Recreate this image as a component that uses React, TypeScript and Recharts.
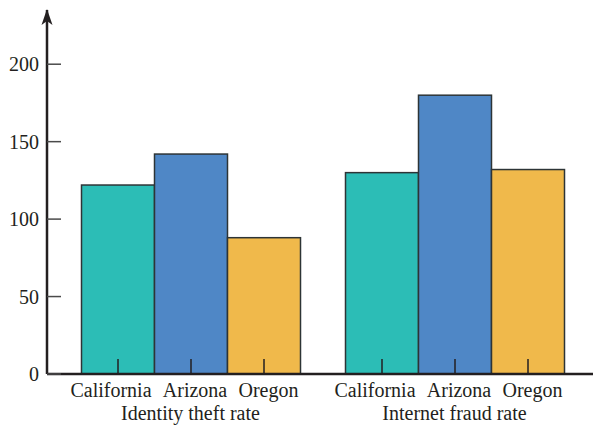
import { Bar, BarChart, XAxis, YAxis, Label } from "recharts"

const groups = ["Identity theft rate", "Internet fraud rate"]
const states = ["California", "Arizona", "Oregon"]
const california = [122, 130]
const arizona = [142, 180]
const oregon = [88, 132]
const yTicks = [0, 50, 100, 150, 200]

const data = groups.map((g, i) => ({
  name: g,
  California: california[i],
  Arizona: arizona[i],
  Oregon: oregon[i],
}))

const colors: Record<string, string> = {
  California: "#2cbdb6",
  Arizona: "#4f87c6",
  Oregon: "#f0b94b",
}

const BAR_SIZE = 73
const INK = "#231f20"
const textStyle = { fontFamily: "Liberation Serif", fontSize: 20, fill: INK }
// label nudges relative to bar centers, as in the original layout
const labelShift = [-6.5, 4.5, 5]

const BarWithTick = (props: any) => {
  const { x, y, width, height, fill } = props
  const cx = x + width / 2
  const bottom = y + height
  return (
    <g>
      <rect x={x} y={y} width={width} height={height} fill={fill} stroke="#2d3436" strokeWidth={1.5} />
      <line x1={cx} x2={cx} y1={bottom - 15} y2={bottom} stroke={INK} strokeWidth={1.5} />
    </g>
  )
}

const XTick = (props: any) => {
  const { x, y, payload } = props
  return (
    <g>
      {states.map((s, i) => (
        <text key={s} x={x + (i - 1) * BAR_SIZE + labelShift[i]} y={y + 23} textAnchor="middle" style={textStyle}>
          {s}
        </text>
      ))}
      <text x={x} y={y + 46} textAnchor="middle" style={textStyle}>
        {payload.value}
      </text>
    </g>
  )
}

const YTick = (props: any) => {
  const { x, y, payload } = props
  return (
    <g>
      <line x1={x} x2={x + 14} y1={y} y2={y} stroke="#4a4a4a" strokeWidth={1.5} />
      <text x={x - 8} y={y} dy={7} textAnchor="end" style={textStyle}>
        {payload.value}
      </text>
    </g>
  )
}

const Arrow = (props: any) => {
  const { viewBox } = props
  const ax = viewBox.x + viewBox.width
  const top = viewBox.y - 1
  return (
    <path
      d={`M${ax},${top} L${ax + 5.5},${top + 16} L${ax},${top + 12} L${ax - 5.5},${top + 16} Z`}
      fill={INK}
    />
  )
}

export default function App() {
  return (
    <div style={{ width: 593, height: 426, background: "#fff" }}>
      <style>{`body{margin:0}`}</style>
      <BarChart
        width={593}
        height={426}
        data={data}
        margin={{ top: 10, right: 0, bottom: 0, left: 0 }}
        barGap={0}
        barSize={BAR_SIZE}
      >
        <XAxis
          dataKey="name"
          height={52}
          padding={{ left: 11.5, right: 6.5 }}
          axisLine={{ stroke: INK, strokeWidth: 2.5 }}
          tickLine={false}
          tickSize={0}
          tickMargin={0}
          tick={<XTick />}
          interval={0}
        />
        <YAxis
          width={47}
          domain={[0, 235]}
          ticks={yTicks}
          axisLine={{ stroke: INK, strokeWidth: 2.5 }}
          tickLine={false}
          tickSize={0}
          tickMargin={0}
          tick={<YTick />}
        >
          <Label content={<Arrow />} />
        </YAxis>
        {states.map((s) => (
          <Bar key={s} dataKey={s} fill={colors[s]} shape={<BarWithTick />} isAnimationActive={false} />
        ))}
      </BarChart>
    </div>
  )
}
